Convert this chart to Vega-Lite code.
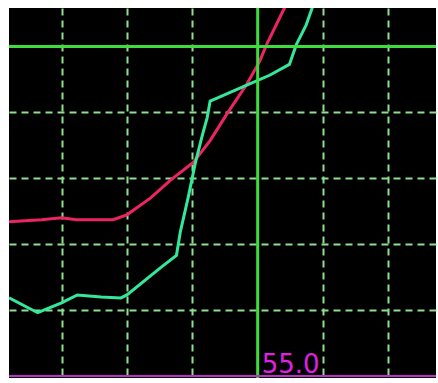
{
  "$schema": "https://vega.github.io/schema/vega-lite/v6.json",
  "width": 438,
  "height": 383,
  "autosize": {"type": "fit", "contains": "padding"},
  "padding": {"left": 7, "top": 6, "right": 0, "bottom": 3},
  "background": "white",
  "config": {
    "view": {"fill": "black", "stroke": null},
    "axis": {"grid": true, "gridColor": "#8ee08e", "gridWidth": 2, "gridDash": [7, 5], "labels": false, "ticks": false, "domain": false, "title": null}
  },
  "datasets": {
    "curves": [
      {"series": "A", "x": -0.803, "y": 2.342},
      {"series": "A", "x": -0.303, "y": 2.372},
      {"series": "A", "x": 0.0, "y": 2.402},
      {"series": "A", "x": 0.227, "y": 2.372},
      {"series": "A", "x": 0.788, "y": 2.372},
      {"series": "A", "x": 1.0, "y": 2.447},
      {"series": "A", "x": 1.364, "y": 2.703},
      {"series": "A", "x": 1.667, "y": 2.973},
      {"series": "A", "x": 2.015, "y": 3.243},
      {"series": "A", "x": 2.273, "y": 3.574},
      {"series": "A", "x": 2.53, "y": 3.979},
      {"series": "A", "x": 2.833, "y": 4.429},
      {"series": "A", "x": 3.03, "y": 4.775},
      {"series": "A", "x": 3.136, "y": 5.03},
      {"series": "A", "x": 3.409, "y": 5.586},
      {"series": "A", "x": 3.47, "y": 5.706},
      {"series": "B", "x": -0.803, "y": 1.186},
      {"series": "B", "x": -0.364, "y": 0.961},
      {"series": "B", "x": 0.0, "y": 1.111},
      {"series": "B", "x": 0.242, "y": 1.231},
      {"series": "B", "x": 0.606, "y": 1.201},
      {"series": "B", "x": 0.909, "y": 1.186},
      {"series": "B", "x": 1.0, "y": 1.231},
      {"series": "B", "x": 1.545, "y": 1.667},
      {"series": "B", "x": 1.758, "y": 1.832},
      {"series": "B", "x": 1.818, "y": 2.192},
      {"series": "B", "x": 1.939, "y": 2.718},
      {"series": "B", "x": 2.045, "y": 3.228},
      {"series": "B", "x": 2.152, "y": 3.649},
      {"series": "B", "x": 2.227, "y": 3.919},
      {"series": "B", "x": 2.273, "y": 4.174},
      {"series": "B", "x": 2.379, "y": 4.219},
      {"series": "B", "x": 2.833, "y": 4.414},
      {"series": "B", "x": 3.182, "y": 4.565},
      {"series": "B", "x": 3.485, "y": 4.73},
      {"series": "B", "x": 3.591, "y": 5.03},
      {"series": "B", "x": 3.742, "y": 5.33},
      {"series": "B", "x": 3.833, "y": 5.586},
      {"series": "B", "x": 3.864, "y": 5.69}
    ],
    "vline": [{"x": 3}],
    "hline": [{"y": 5}],
    "marker": [{"x": 3, "y": 0, "label": "55.0"}]
  },
  "layer": [
    {
      "data": {"name": "curves"},
      "mark": {"type": "line", "clip": true, "strokeWidth": 3},
      "encoding": {
        "x": {"field": "x", "type": "quantitative", "scale": {"domain": [-0.803, 5.727], "nice": false, "zero": false}, "axis": {"values": [0, 1, 2, 4, 5]}},
        "y": {"field": "y", "type": "quantitative", "scale": {"domain": [-0.03, 5.586], "nice": false, "zero": false}, "axis": {"values": [1, 2, 3, 4]}},
        "color": {"field": "series", "type": "nominal", "scale": {"domain": ["A", "B"], "range": ["#ec2464", "#33e89a"]}, "legend": null}
      }
    },
    {
      "data": {"name": "vline"},
      "mark": {"type": "rule", "color": "#3fdc3f", "strokeWidth": 3},
      "encoding": {"x": {"field": "x", "type": "quantitative"}}
    },
    {
      "data": {"name": "hline"},
      "mark": {"type": "rule", "color": "#3fdc3f", "strokeWidth": 3},
      "encoding": {"y": {"field": "y", "type": "quantitative"}}
    },
    {
      "data": {"name": "marker"},
      "mark": {"type": "rule", "color": "#c030c8", "strokeWidth": 2},
      "encoding": {"y": {"field": "y", "type": "quantitative"}}
    },
    {
      "data": {"name": "marker"},
      "mark": {"type": "text", "align": "left", "baseline": "alphabetic", "dx": 4, "dy": -3, "fontSize": 26, "font": "DejaVu Sans", "color": "#e020e0"},
      "encoding": {
        "x": {"field": "x", "type": "quantitative"},
        "y": {"field": "y", "type": "quantitative"},
        "text": {"field": "label"}
      }
    }
  ]
}
